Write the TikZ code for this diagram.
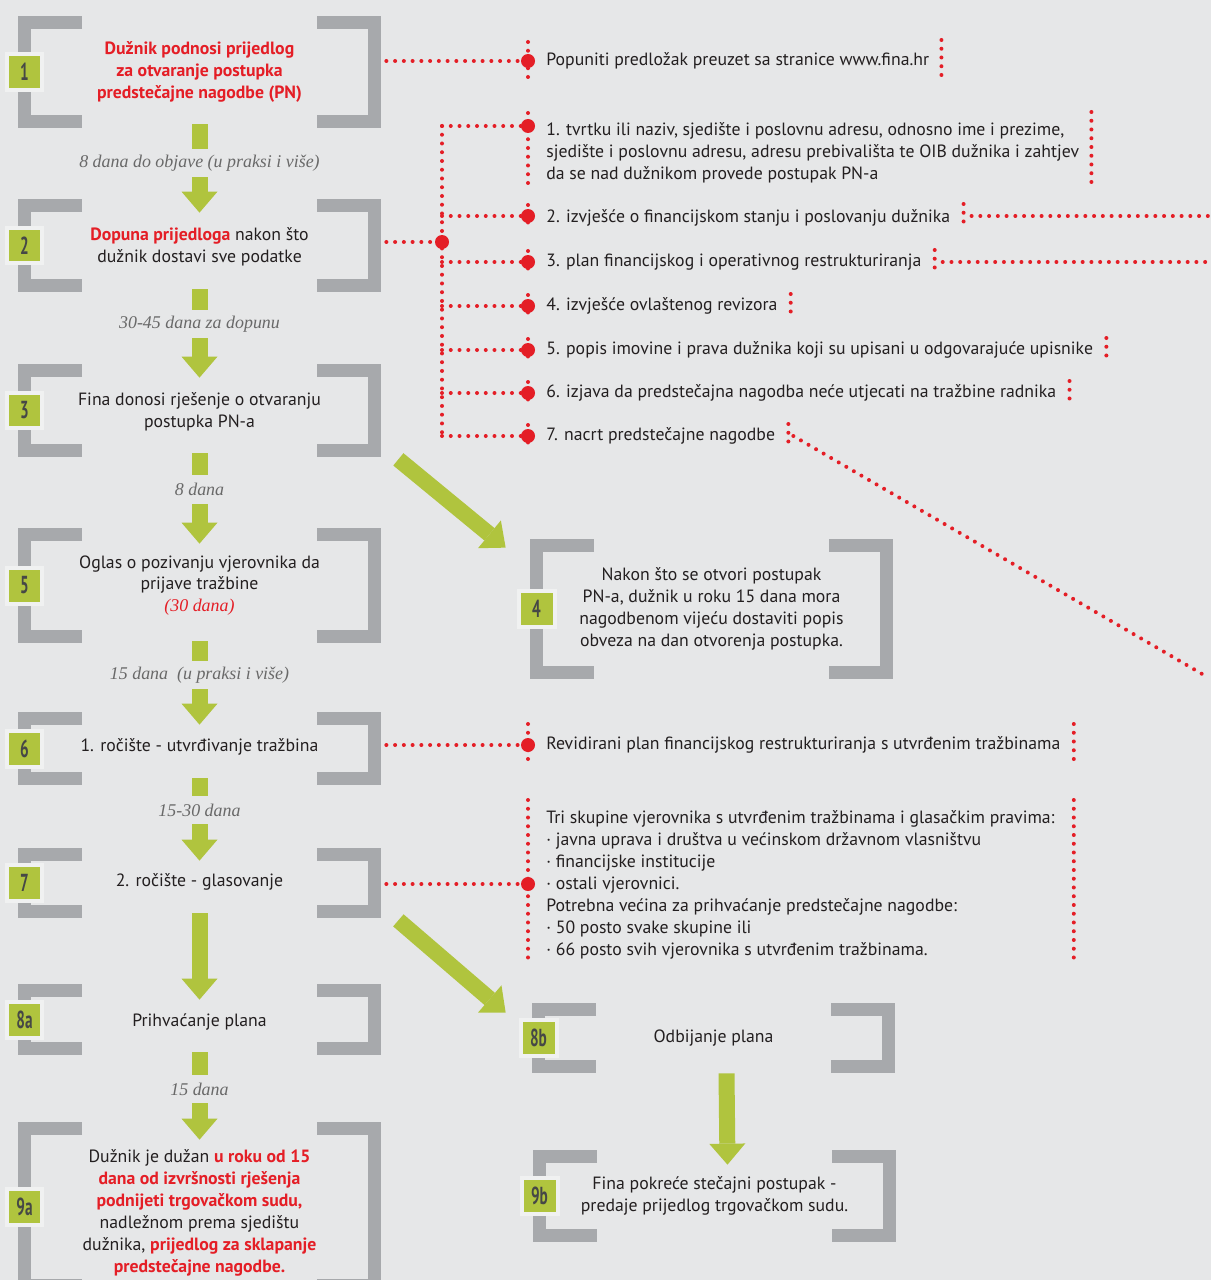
\documentclass[tikz,border=0pt]{standalone}
\usepackage{fontspec}
\usepackage{graphicx}
\setmainfont{PT Sans}
\newfontfamily\serifit{Liberation Serif}
\usetikzlibrary{arrows.meta,fit,calc}
\definecolor{bg}{RGB}{230,231,232}
\definecolor{ring}{RGB}{240,241,241}
\definecolor{brgray}{RGB}{167,169,172}
\definecolor{grn}{RGB}{176,196,62}
\definecolor{myred}{RGB}{228,30,38}
\definecolor{txt}{RGB}{35,31,32}
\definecolor{labgray}{RGB}{105,105,105}
\definecolor{numtxt}{RGB}{70,72,70}
\newcommand\bodyfont{\fontsize{10.1pt}{12.47pt}\selectfont}
\newcommand\labfont{\serifit\itshape\fontsize{10.2pt}{11pt}\selectfont}
\newcommand\numfont{\bfseries\fontsize{14pt}{14pt}\selectfont}
\newcommand\rb[1]{\textcolor{myred}{\bfseries #1}}
\newcommand\mybox[6]{%
  \node[fit={(#2,#3) (#4,#5)}, inner sep=0pt] (#1) {};
  \draw[bracket] ({#2+64},{#3+6.5}) -- ({#2+6.5},{#3+6.5}) -- ({#2+6.5},{#5-6.5}) -- ({#2+64},{#5-6.5});
  \draw[bracket] ({#4-64},{#3+6.5}) -- ({#4-6.5},{#3+6.5}) -- ({#4-6.5},{#5-6.5}) -- ({#4-64},{#5-6.5});
  \node[numbox] (#1n) at ({#2+6.5},{(#3+#5)/2}) {\scalebox{0.62}[1]{#6}};
}
\begin{document}
\begin{tikzpicture}[x=0.02cm,y=-0.02cm,
  bracket/.style={draw=brgray, line width=0.26cm, line join=miter},
  numbox/.style={fill=grn, draw=ring, line width=0.08cm, minimum size=0.72cm, inner sep=0pt, text=numtxt, font=\numfont},
  ltext/.style={align=center, text=txt, font=\bodyfont, inner sep=0pt},
  rtext/.style={align=left, anchor=west, text=txt, font=\bodyfont, inner sep=0pt},
  dlab/.style={text=labgray, font=\labfont, minimum height=0.56cm, inner sep=0pt},
  gstem/.style={draw=grn, line width=0.32cm},
  garrow/.style={draw=grn, line width=0.32cm, -{Triangle[length=0.42cm,width=0.72cm,line width=0pt]}},
  reddots/.style={draw=myred, line width=0.08cm, line cap=round, dash pattern=on 0pt off 0.175cm},
  bigdot/.style={circle, fill=myred, minimum size=0.28cm, inner sep=0pt},
]
\useasboundingbox (0,0) rectangle (1219,1280);
\fill[white] (0,0) rectangle (1219,1280);
\fill[bg] (0,0) rectangle (1211,1280);
\coordinate (redge) at (1211,0);

% boxes
\mybox{b1}{18}{16}{381}{128}{1}
\mybox{b2}{18}{199}{381}{292}{2}
\mybox{b3}{18}{364}{381}{457}{3}
\mybox{b5}{18}{528}{381}{643}{5}
\mybox{b6}{18}{712}{381}{785}{6}
\mybox{b7}{18}{848}{381}{918}{7}
\mybox{b8a}{18}{984}{381}{1055}{8a}
\mybox{b9a}{18}{1122}{381}{1292}{9a}
\mybox{b4}{530}{539}{893}{679}{4}
\mybox{b8b}{532}{1003}{895}{1073}{8b}
\mybox{b9b}{533}{1150}{896}{1242}{9b}

% box texts
\node[ltext] (t1) at (b1) {\rb{Dužnik podnosi prijedlog}\\\rb{za otvaranje postupka}\\\rb{predstečajne nagodbe (PN)}};
\node[ltext] (t2) at ($(b2)+(0,1)$) {\rb{Dopuna prijedloga} nakon što\\dužnik dostavi sve podatke};
\node[ltext] (t3) at ($(b3)+(0,1)$) {Fina donosi rješenje o otvaranju\\postupka PN-a};
\node[ltext] (t5) at (b5) {Oglas o pozivanju vjerovnika da\\prijave tražbine\\{\labfont\color{myred}(30 dana)}};
\node[ltext] (t6) at ($(b6)+(0,-2)$) {1. ročište - utvrđivanje tražbina};
\node[ltext] (t7) at ($(b7)+(0,-1)$) {2. ročište - glasovanje};
\node[ltext] (t8a) at ($(b8a)+(0,2)$) {Prihvaćanje plana};
\node[ltext] (t9a) at ($(b9a)+(0,6)$) {Dužnik je dužan \rb{u roku od 15}\\\rb{dana od izvršnosti rješenja}\\\rb{podnijeti trgovačkom sudu,}\\nadležnom prema sjedištu\\dužnika, \rb{prijedlog za sklapanje}\\\rb{predstečajne nagodbe.}};
\node[ltext] (t4) at (b4) {Nakon što se otvori postupak\\PN-a, dužnik u roku 15 dana mora\\nagodbenom vijeću dostaviti popis\\obveza na dan otvorenja postupka.};
\node[ltext] (t8b) at (b8b) {Odbijanje plana};
\node[ltext] (t9b) at (b9b) {Fina pokreće stečajni postupak -\\predaje prijedlog trgovačkom sudu.};

% duration labels
\node[dlab] (l1) at (199.5,163) {8 dana do objave (u praksi i više)};
\node[dlab] (l2) at (199.5,324) {30-45 dana za dopunu};
\node[dlab] (l3) at (199.5,489.5) {8 dana};
\node[dlab] (l5) at (199.5,675) {15 dana~ (u praksi i više)};
\node[dlab] (l6) at (199.5,810) {15-30 dana};
\node[dlab] (l8) at (199.5,1089) {15 dana};

% green arrows
\draw[gstem] ($(b1.south)+(0,-4)$) -- (l1.north);
\draw[garrow] (l1.south) -- ($(b2.north)+(0,14)$);
\draw[gstem] ($(b2.south)+(0,-3)$) -- (l2.north);
\draw[garrow] (l2.south) -- ($(b3.north)+(0,14)$);
\draw[gstem] ($(b3.south)+(0,-4)$) -- (l3.north);
\draw[garrow] (l3.south) -- ($(b5.north)+(0,16)$);
\draw[gstem] ($(b5.south)+(0,-2)$) -- (l5.north);
\draw[garrow] (l5.south) -- ($(b6.north)+(0,13)$);
\draw[gstem] ($(b6.south)+(0,-7)$) -- (l6.north);
\draw[garrow] (l6.south) -- ($(b7.north)+(0,13)$);
\draw[garrow] ($(b7.south)+(0,-5)$) -- ($(b8a.north)+(0,16)$);
\draw[gstem] ($(b8a.south)+(0,-3)$) -- (l8.north);
\draw[garrow] (l8.south) -- ($(b9a.north)+(0,18)$);
\draw[garrow] ($(b8b.south)+(13,0)$) -- ($(b9b.north)+(13,15)$);
\draw[garrow] ($(b3.south east)+(17,2)$) -- ($(b4.north west)+(-24,9)$);
\draw[garrow] ($(b7.south east)+(17,2)$) -- ($(b8b.north west)+(-26,10)$);

% right column texts
\node[rtext] (r0) at (546,61) {Popuniti predložak preuzet sa stranice www.fina.hr};
\node[rtext] (r1) at (546,153) {1. tvrtku ili naziv, sjedište i poslovnu adresu, odnosno ime i prezime,\\sjedište i poslovnu adresu, adresu prebivališta te OIB dužnika i zahtjev\\da se nad dužnikom provede postupak PN-a};
\node[rtext] (r2) at (546,218) {2. izvješće o financijskom stanju i poslovanju dužnika};
\node[rtext] (r3) at (546,262) {3. plan financijskog i operativnog restrukturiranja};
\node[rtext] (r4) at (546,306) {4. izvješće ovlaštenog revizora};
\node[rtext] (r5) at (546,350) {5. popis imovine i prava dužnika koji su upisani u odgovarajuće upisnike};
\node[rtext] (r6) at (546,393) {6. izjava da predstečajna nagodba neće utjecati na tražbine radnika};
\node[rtext] (r7) at (546,436) {7. nacrt predstečajne nagodbe};
\node[rtext] (r8) at (546,745) {Revidirani plan financijskog restrukturiranja s utvrđenim tražbinama};
\node[rtext] (r9) at (546,885) {Tri skupine vjerovnika s utvrđenim tražbinama i glasačkim pravima:\\· javna uprava i društva u većinskom državnom vlasništvu\\· financijske institucije\\· ostali vjerovnici.\\Potrebna većina za prihvaćanje predstečajne nagodbe:\\· 50 posto svake skupine ili\\· 66 posto svih vjerovnika s utvrđenim tražbinama.};

% dot anchors
\coordinate (d0) at (528,61);
\coordinate (d1) at (528,126);
\coordinate (d2) at (528,216);
\coordinate (d3) at (528,262);
\coordinate (d4) at (528,306);
\coordinate (d5) at (528,350);
\coordinate (d6) at (528,393);
\coordinate (d7) at (528,436);
\coordinate (d8) at (528,745);
\coordinate (d9) at (528,884);
\coordinate (j) at (442,242);
\coordinate (e0) at ($(r0.east)+(12,0)$);
\coordinate (e1) at ($(r1.east)+(12,0)$);
\coordinate (e2) at ($(r2.east)+(13,-2)$);
\coordinate (e3) at ($(r3.east)+(13,0)$);
\coordinate (e4) at ($(r4.east)+(13,0)$);
\coordinate (e5) at ($(r5.east)+(13,0)$);
\coordinate (e6) at ($(r6.east)+(13,0)$);
\coordinate (e7) at ($(r7.east)+(13,0)$);
\coordinate (e8) at ($(r8.east)+(13,0)$);
\coordinate (dend) at (1209,678);

% red dotted connectors
\draw[reddots] ($(b1.east |- d0)+(5,0)$) -- (d0);
\draw[reddots] ($(b2.east |- j)+(5,0)$) -- (j);
\draw[reddots] (j |- d1) -- (j |- d7);
\foreach \k in {1,...,7} { \draw[reddots] (j |- d\k) -- (d\k); }
\draw[reddots] ($(b6.east |- d8)+(5,0)$) -- (d8);
\draw[reddots] ($(b7.east |- d9)+(5,0)$) -- (d9);

% left ticks
\draw[reddots] ($(d0)+(0,-19)$) -- ($(d0)+(0,19)$);
\draw[reddots] ($(d1)+(0,-13)$) -- ($(d1)+(0,62)$);
\foreach \k in {2,...,7} { \draw[reddots] ($(d\k)+(0,-11)$) -- ($(d\k)+(0,11)$); }
\draw[reddots] ($(d8)+(0,-21)$) -- ($(d8)+(0,22)$);
\draw[reddots] (528,800) -- (528,965);

% right ticks
\draw[reddots] ($(e0)+(0,-21)$) -- ($(e0)+(0,21)$);
\draw[reddots] ($(e1)+(0,-41)$) -- ($(e1)+(0,35)$);
\foreach \k in {2,...,7} { \draw[reddots] ($(e\k)+(0,-12)$) -- ($(e\k)+(0,13)$); }
\draw[reddots] ($(e8)+(0,-21)$) -- ($(e8)+(0,22)$);
\draw[reddots] (e8 |- 0,800) -- (e8 |- 0,965);

% long dotted lines to the right
\draw[reddots] ($(e2 |- d2)+(8,0)$) -- (redge |- d2);
\draw[reddots] ($(e3 |- d3)+(8,0)$) -- (redge |- d3);
\draw[reddots] ($(e7)+(5,0)$) -- (dend);

% big dots
\foreach \k in {0,...,9} { \node[bigdot] (bd\k) at (d\k) {}; }
\node[bigdot] (bj) at (j) {};
\end{tikzpicture}
\end{document}
